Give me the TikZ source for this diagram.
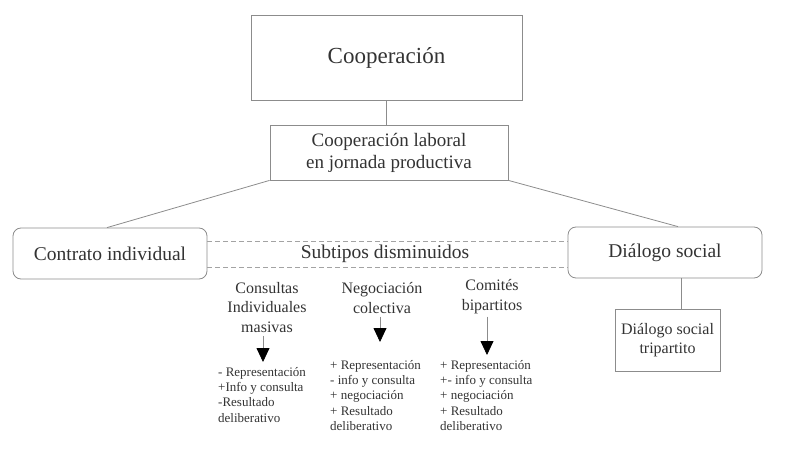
\documentclass[tikz,border=0pt]{standalone}
\usepackage{fontspec}
\setmainfont{Liberation Serif}
\usetikzlibrary{arrows.meta}
\definecolor{linea}{HTML}{8C8C8C}
\definecolor{texto}{HTML}{333333}
\tikzset{
  caja/.style={draw=linea, line width=0.8pt, text=texto, inner sep=0pt, align=center},
  redonda/.style={caja, rounded corners=8pt, minimum width=194pt, minimum height=51pt,
    font=\fontsize{19.5}{23}\selectfont},
  titulo/.style={text=texto, inner sep=0pt, align=center, font=\fontsize{16}{19.5}\selectfont},
  lista/.style={text=texto, inner sep=0pt, align=left, anchor=north west,
    font=\fontsize{13}{15.3}\selectfont},
  conector/.style={draw=linea, line width=0.8pt},
  discontinua/.style={conector, draw=linea!80, dash pattern=on 5pt off 3pt},
  flecha/.style={draw=linea, line width=0.8pt, shorten <=3pt,
    -{Triangle[width=13pt,length=14pt,color=black]}},
}
\begin{document}
\begin{tikzpicture}[x=1pt,y=-1pt]
%\draw[help lines,step=50] (0,0) grid (795,470);
\useasboundingbox (0,0) rectangle (795,470);

% arriba
\node[caja, minimum width=271pt, minimum height=85pt, font=\fontsize{23}{27}\selectfont] (coop) at (386.5,57.5) {Cooperación};
\node[caja, minimum width=238pt, minimum height=55pt, font=\fontsize{19}{22}\selectfont] (laboral) at (389,152.5) {Cooperación laboral\\en jornada productiva};
\draw[conector] (coop.south) -- (coop.south |- laboral.north);

% nivel medio
\node[redonda] (contrato) at (110,253.5) {Contrato individual};
\node[redonda] (dialogo) at (665,252.5) {Diálogo social};
\node[text=texto, inner sep=0pt, font=\fontsize{19.5}{23}\selectfont] (subtipos) at (385,254) {Subtipos disminuidos};
\coordinate (ysup) at (0,241);
\coordinate (yinf) at (0,267);
\draw[discontinua] (contrato.east |- ysup) -- (dialogo.west |- ysup);
\draw[discontinua] (contrato.east |- yinf) -- (dialogo.west |- yinf);
\draw[conector] (laboral.south west) -- ([xshift=-3pt]contrato.north);
\draw[conector] (laboral.south east) -- ([xshift=13pt]dialogo.north);

% tripartito
\node[caja, minimum width=105pt, minimum height=62pt, font=\fontsize{16}{19.5}\selectfont] (tripartito) at (667.5,340) {Diálogo social\\tripartito};
\draw[conector] ([xshift=16pt]dialogo.south) -- ([xshift=16pt]dialogo.south |- tripartito.north);

% subtipos
\node[titulo] (consultas) at (267,307.5) {Consultas\\Individuales\\masivas};
\node[titulo] (negociacion) at (382,298) {Negociación\\colectiva};
\node[titulo] (comites) at (492,296.5) {Comités\\bipartitos};

\coordinate (pconsultas) at (263,362);
\coordinate (pnegociacion) at (380,342);
\coordinate (pcomites) at (487,355);
\draw[flecha] (pconsultas |- consultas.south) -- (pconsultas);
\draw[flecha] (pnegociacion |- negociacion.south) -- (pnegociacion);
\draw[flecha] (pcomites |- comites.south) -- (pcomites);

\node[lista] (lconsultas) at (218,367) {- Representación\\+Info y consulta\\-Resultado\\deliberativo};
\node[lista] (lnegociacion) at (330,360) {+ Representación\\- info y consulta\\+ negociación\\+ Resultado\\deliberativo};
\node[lista] (lcomites) at (440,360) {+ Representación\\+- info y consulta\\+ negociación\\+ Resultado\\deliberativo};
\end{tikzpicture}
\end{document}
